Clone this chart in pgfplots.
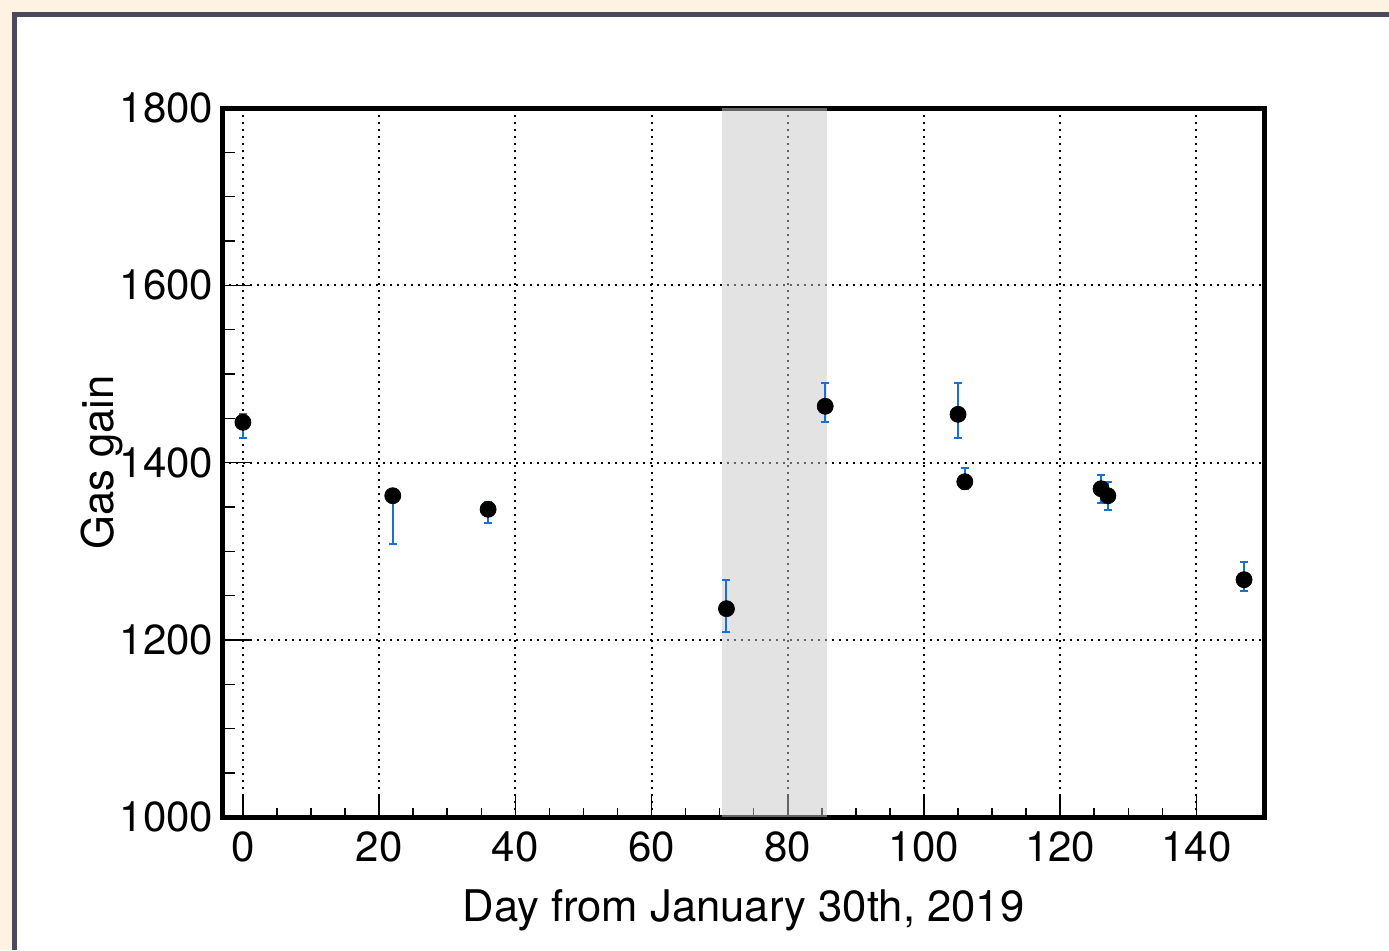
\documentclass[border=0pt]{standalone}
\usepackage{pgfplots}
\pgfplotsset{compat=1.18}
\usepackage{fontspec}
\setmainfont{TeX Gyre Heros}

\definecolor{canvasbg}{HTML}{FEF3E2}
\definecolor{framegray}{HTML}{4A4A5C}
\definecolor{errblue}{HTML}{1A6FD4}
\definecolor{bandgray}{HTML}{C9C9C9}

\begin{document}
\begin{tikzpicture}
% canvas and window frame
\fill[canvasbg] (0,0) rectangle (694.5pt,475pt);
\useasboundingbox (0,0) rectangle (694.5pt,475pt);
\fill[framegray] (6pt,0) rectangle (694.5pt,469pt);
\fill[white] (8.5pt,0) rectangle (694.5pt,466.5pt);
\begin{axis}[
  at={(111.25pt,66.35pt)}, anchor=south west,
  scale only axis, width=521pt, height=354.65pt,
  xmin=-3, xmax=150, ymin=1000, ymax=1800,
  xtick={0,20,...,140}, ytick={1000,1200,...,1800},
  minor x tick num=3, minor y tick num=3,
  tick align=inside, xtick pos=bottom, ytick pos=left,
  tick style={black, line width=0.75pt},
  xtick style={/pgfplots/major tick length=11pt},
  ytick style={/pgfplots/major tick length=15pt},
  minor x tick style={/pgfplots/minor tick length=4.5pt},
  minor y tick style={/pgfplots/minor tick length=6.5pt},
  grid=major,
  major grid style={black, line width=1pt, dash pattern=on 1pt off 2.5pt},
  axis line style={line width=2.5pt},
  /pgf/number format/assume math mode=true,
  /pgf/number format/1000 sep={},
  xticklabel style={font=\fontsize{21}{25}\selectfont, inner sep=0pt, anchor=north, yshift=-7pt},
  yticklabel style={font=\fontsize{21}{25}\selectfont, inner sep=0pt, anchor=east, xshift=-4.5pt},
  xlabel={Day from January 30th, 2019},
  ylabel={Gas gain},
  xlabel style={font=\fontsize{21.8}{26}\selectfont, at={(axis description cs:0.5,-0.1466)}, anchor=base},
  ylabel style={font=\fontsize{21.8}{26}\selectfont, at={(axis description cs:-0.1046,0.5)}, anchor=base},
]
% shaded period
\addplot[draw=none, fill=bandgray, fill opacity=0.5, forget plot]
  coordinates {(70.3,1000) (70.3,1800) (85.7,1800) (85.7,1000)} -- cycle;

% gas gain measurements with asymmetric uncertainties
\addplot[only marks, mark=*, mark size=4pt, mark options={black, fill=black},
  error bars/.cd, y dir=both, y explicit,
  error bar style={errblue, line width=1pt},
  error mark options={rotate=90, errblue, mark size=2pt, line width=1pt}]
  coordinates {
    (0,1445.5)   += (0,9.5)  -= (0,17.7)
    (22,1362.7)  += (0,8)    -= (0,54.8)
    (36,1347.4)  += (0,8)    -= (0,15.4)
    (71,1235.3)  += (0,32)   -= (0,26)
    (85.5,1463.6) += (0,26.6) -= (0,18.1)
    (105,1454.5) += (0,35.3) -= (0,27)
    (106,1378.5) += (0,15.8) -= (0,8)
    (126,1370.6) += (0,15.8) -= (0,15.8)
    (127,1362.7) += (0,15.5) -= (0,15.7)
    (147,1268)   += (0,20.3) -= (0,13.1)
  };
\end{axis}
\end{tikzpicture}
\end{document}
